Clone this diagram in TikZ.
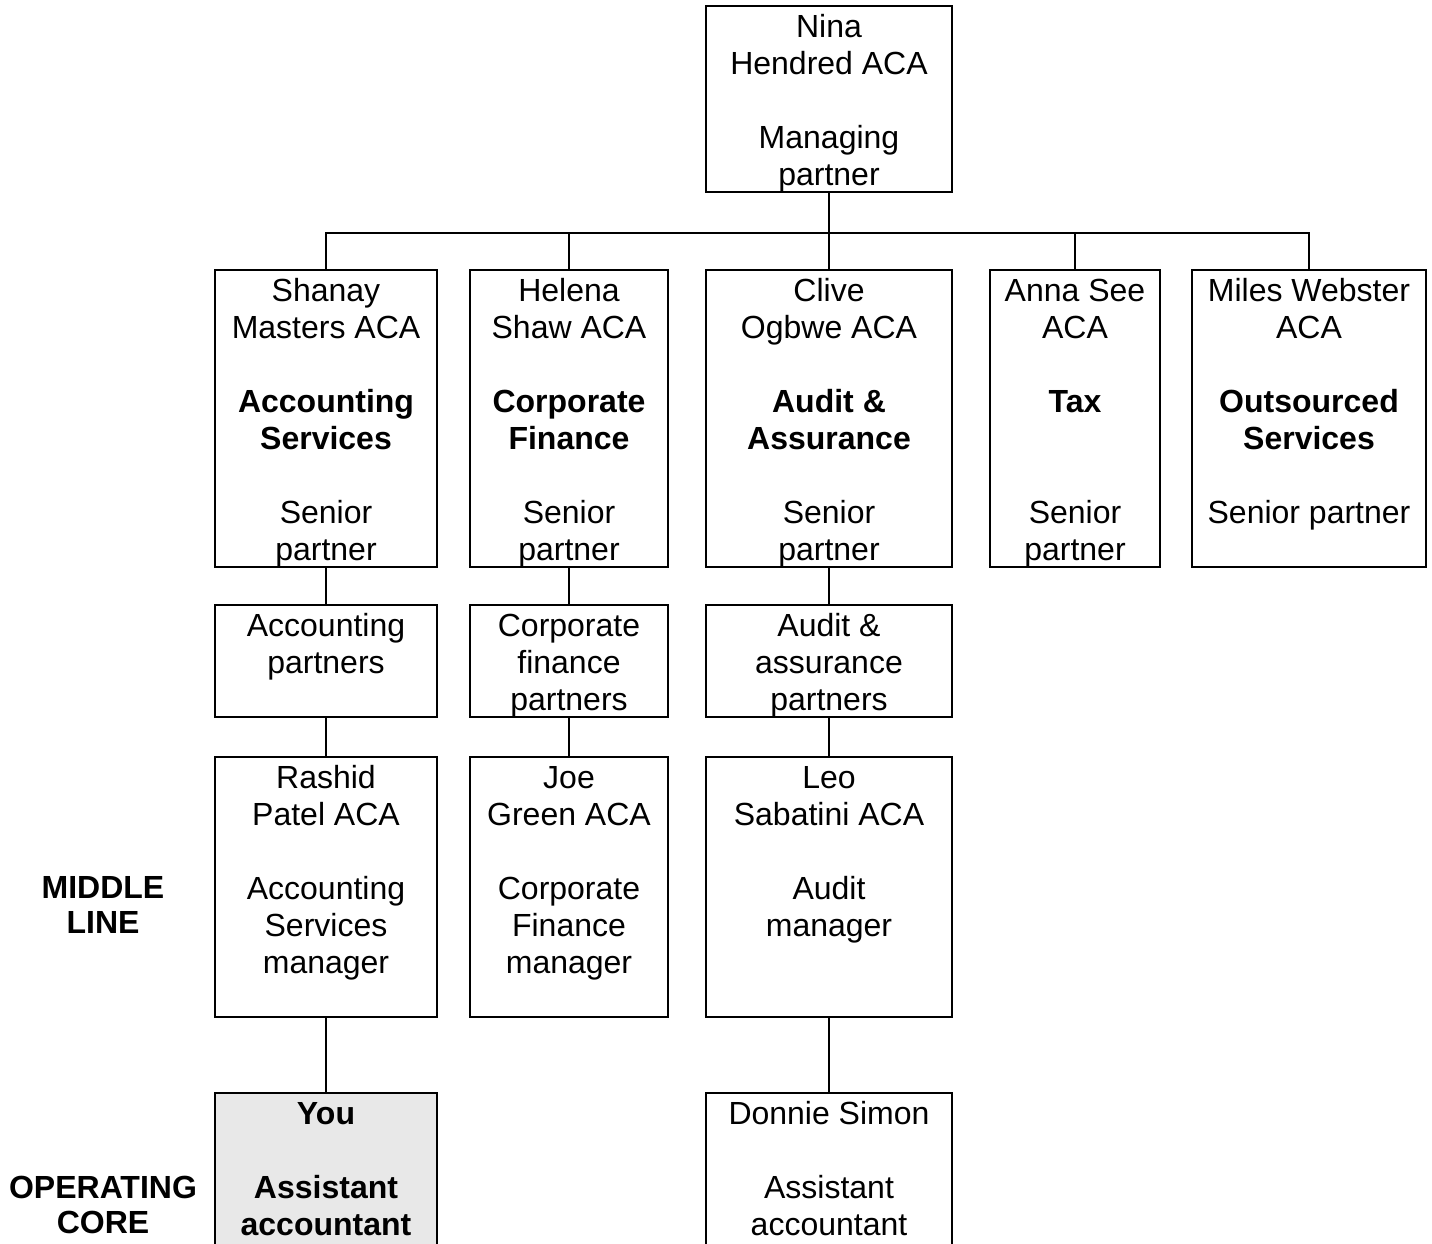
\documentclass[tikz,border=0pt]{standalone}
\usepackage{fontspec}
\setmainfont{Liberation Sans}
\definecolor{youfill}{HTML}{E8E8E8}
\newcommand\cellbox[3]{\parbox[t][#2pt][t]{#1pt}{\centering\rule{0pt}{31.5pt}#3\par}}
\begin{document}
\begin{tikzpicture}[x=1pt,y=-1pt,
  box/.style={draw, line width=2pt, inner sep=0pt, outer sep=0pt, anchor=north west,
    font=\fontsize{32pt}{37pt}\selectfont},
  conn/.style={line width=2pt},
  lab/.style={inner sep=0pt, align=center, font=\fontsize{32pt}{35pt}\selectfont\bfseries}]
\clip (0,0) rectangle (1432,1243);
\fill[white] (0,0) rectangle (1432,1243);
% top
\node[box] (nina) at (706,6) {\cellbox{246}{186}{Nina\\Hendred ACA\\[37pt]Managing\\partner}};
% row 2
\node[box] (shanay) at (215,270) {\cellbox{222}{297}{Shanay\\Masters ACA\\[37pt]\textbf{Accounting\\Services}\\[37pt]Senior\\partner}};
\node[box] (helena) at (470,270) {\cellbox{198}{297}{Helena\\Shaw ACA\\[37pt]\textbf{Corporate\\Finance}\\[37pt]Senior\\partner}};
\node[box] (clive) at (706,270) {\cellbox{246}{297}{Clive\\Ogbwe ACA\\[37pt]\textbf{Audit \&\\Assurance}\\[37pt]Senior\\partner}};
\node[box] (anna) at (990,270) {\cellbox{170}{297}{Anna See\\ACA\\[37pt]\textbf{Tax}\\[74pt]Senior\\partner}};
\node[box] (miles) at (1192,270) {\cellbox{234}{297}{Miles Webster\\ACA\\[37pt]\textbf{Outsourced\\Services}\\[37pt]Senior partner}};
% row 3
\node[box] (accp) at (215,605) {\cellbox{222}{112}{Accounting\\partners}};
\node[box] (cfp) at (470,605) {\cellbox{198}{112}{Corporate\\finance\\partners}};
\node[box] (aap) at (706,605) {\cellbox{246}{112}{Audit \&\\assurance\\partners}};
% row 4
\node[box] (rashid) at (215,757) {\cellbox{222}{260}{Rashid\\Patel ACA\\[37pt]Accounting\\Services\\manager}};
\node[box] (joe) at (470,757) {\cellbox{198}{260}{Joe\\Green ACA\\[37pt]Corporate\\Finance\\manager}};
\node[box] (leo) at (706,757) {\cellbox{246}{260}{Leo\\Sabatini ACA\\[37pt]Audit\\manager}};
% row 5
\node[box, fill=youfill] (you) at (215,1093) {\cellbox{222}{200}{\textbf{You\\[37pt]Assistant\\accountant}}};
\node[box] (donnie) at (706,1093) {\cellbox{246}{200}{Donnie Simon\\[37pt]Assistant\\accountant}};
% labels
\node[lab] (ml) at (103,905) {MIDDLE\\LINE};
\node[lab] (oc) at (103,1205) {OPERATING\\CORE};
% connectors
\coordinate (bus) at (0,233);
\draw[conn] (nina.south) -- (nina.south |- bus);
\draw[conn] (shanay.north) -- (shanay.north |- bus) -- (miles.north |- bus) -- (miles.north);
\draw[conn] (helena.north) -- (helena.north |- bus);
\draw[conn] (clive.north) -- (clive.north |- bus);
\draw[conn] (anna.north) -- (anna.north |- bus);
\draw[conn] (shanay.south) -- (accp.north);
\draw[conn] (helena.south) -- (cfp.north);
\draw[conn] (clive.south) -- (aap.north);
\draw[conn] (accp.south) -- (rashid.north);
\draw[conn] (cfp.south) -- (joe.north);
\draw[conn] (aap.south) -- (leo.north);
\draw[conn] (rashid.south) -- (you.north);
\draw[conn] (leo.south) -- (donnie.north);
\end{tikzpicture}
\end{document}
